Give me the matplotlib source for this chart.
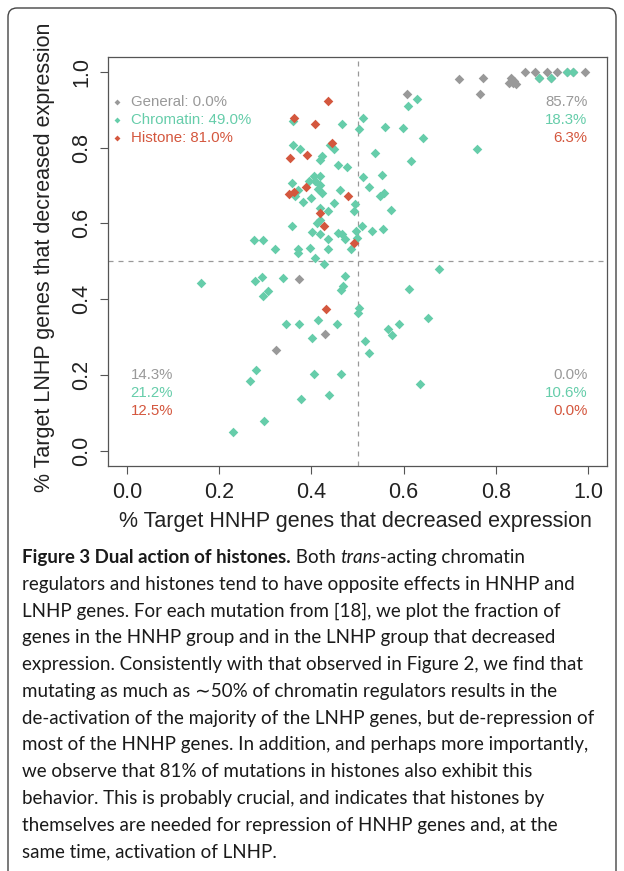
import matplotlib
matplotlib.use("Agg")
import matplotlib.pyplot as plt
from matplotlib.patches import FancyBboxPatch
from matplotlib.transforms import IdentityTransform

plt.rcParams["font.family"] = ["Liberation Sans", "DejaVu Sans"]

# ---- data (fraction of HNHP / LNHP target genes with decreased expression) ----
gen_x = [0.720, 0.773, 0.766, 0.607, 0.833, 0.838, 0.828, 0.843, 0.862, 0.885,
         0.910, 0.933, 0.993, 0.894, 0.919, 0.968, 0.955, 0.840,
         0.373, 0.430, 0.324]
gen_y = [0.982, 0.984, 0.942, 0.942, 0.984, 0.971, 0.971, 0.968, 1.000, 1.000,
         1.000, 1.000, 1.000, 0.984, 0.984, 1.000, 1.000, 0.976,
         0.454, 0.309, 0.265]

chrom_x = [0.361, 0.467, 0.504, 0.361, 0.376, 0.423, 0.418, 0.441, 0.450, 0.457,
           0.477, 0.405, 0.419, 0.394, 0.408, 0.358, 0.419, 0.415, 0.423, 0.372,
           0.365, 0.381, 0.399, 0.461, 0.448, 0.419, 0.436, 0.419, 0.494, 0.493,
           0.359, 0.402, 0.419, 0.437, 0.457, 0.467, 0.473, 0.486, 0.497, 0.276,
           0.296, 0.321, 0.372, 0.372, 0.397, 0.407, 0.436, 0.427, 0.511, 0.560,
           0.599, 0.643, 0.760, 0.538, 0.615, 0.511, 0.553, 0.524, 0.549, 0.558,
           0.572, 0.509, 0.531, 0.556, 0.498, 0.894, 0.919, 0.968, 0.955, 0.628,
           0.610, 0.160, 0.277, 0.293, 0.338, 0.473, 0.468, 0.464, 0.296, 0.306,
           0.503, 0.500, 0.345, 0.373, 0.415, 0.455, 0.401, 0.280, 0.267, 0.406,
           0.464, 0.439, 0.378, 0.298, 0.230, 0.677, 0.612, 0.567, 0.574, 0.589,
           0.652, 0.516, 0.524, 0.636, 0.412]
chrom_y = [0.870, 0.861, 0.848, 0.808, 0.795, 0.779, 0.768, 0.808, 0.797, 0.753,
           0.749, 0.724, 0.726, 0.711, 0.711, 0.707, 0.702, 0.691, 0.680, 0.689,
           0.672, 0.656, 0.667, 0.687, 0.654, 0.641, 0.632, 0.608, 0.650, 0.633,
           0.594, 0.577, 0.572, 0.559, 0.575, 0.573, 0.559, 0.531, 0.579, 0.557,
           0.555, 0.531, 0.531, 0.522, 0.535, 0.509, 0.531, 0.493, 0.878, 0.855,
           0.852, 0.826, 0.797, 0.786, 0.764, 0.722, 0.727, 0.695, 0.672, 0.680,
           0.636, 0.594, 0.579, 0.586, 0.562, 0.984, 0.984, 1.000, 1.000, 0.927,
           0.909, 0.443, 0.449, 0.459, 0.456, 0.462, 0.435, 0.423, 0.408, 0.421,
           0.377, 0.364, 0.333, 0.333, 0.344, 0.333, 0.298, 0.214, 0.183, 0.203,
           0.203, 0.148, 0.135, 0.077, 0.049, 0.480, 0.427, 0.320, 0.306, 0.333,
           0.349, 0.289, 0.258, 0.176, 0.601]

hist_x = [0.436, 0.363, 0.407, 0.444, 0.390, 0.354, 0.388, 0.363, 0.352, 0.480,
          0.419, 0.428, 0.492, 0.432]
hist_y = [0.924, 0.878, 0.863, 0.813, 0.781, 0.773, 0.696, 0.682, 0.678, 0.673,
          0.626, 0.594, 0.547, 0.374]

legend_labels = ["General: 0.0%", "Chromatin: 49.0%", "Histone: 81.0%"]
ur_labels = ["85.7%", "18.3%", "6.3%"]
ll_labels = ["14.3%", "21.2%", "12.5%"]
lr_labels = ["0.0%", "10.6%", "0.0%"]
ticks = [0.0, 0.2, 0.4, 0.6, 0.8, 1.0]

GRAY = "#999999"
GREEN = "#66CDAA"
RED = "#D4573E"
colors = [GRAY, GREEN, RED]

W, H = 624, 871
fig = plt.figure(figsize=(W / 100, H / 100), dpi=100)


def fx(px):
    return px / W


def fy(py):
    return 1 - py / H


# outer rounded frame
frame = FancyBboxPatch((8, -20), 608, H - 8 + 20,
                       boxstyle="round,pad=0,rounding_size=9",
                       transform=IdentityTransform(), fill=False,
                       edgecolor="#444444", linewidth=1.0)
fig.patches.append(frame)

ax = fig.add_axes([fx(108.3), fy(465.7), (606.7 - 108.3) / W, (465.7 - 56.7) / H])

ax.scatter(gen_x, gen_y, marker="D", s=24, c=GRAY, linewidths=0, zorder=3)
ax.scatter(chrom_x, chrom_y, marker="D", s=24, c=GREEN, linewidths=0, zorder=4)
ax.scatter(hist_x, hist_y, marker="D", s=24, c=RED, linewidths=0, zorder=5)

ax.axvline(0.5, color="#999999", ls=(0, (4, 4)), lw=0.9, zorder=1)
ax.axhline(0.5, color="#999999", ls=(0, (4, 4)), lw=0.9, zorder=1)

ax.set_xlim(-0.04, 1.04)
ax.set_ylim(-0.04, 1.04)
ax.set_xticks(ticks)
ax.set_yticks(ticks)
ax.set_xticklabels([f"{t:.1f}" for t in ticks])
ax.set_yticklabels([f"{t:.1f}" for t in ticks], rotation=90, va="center")
ax.tick_params(length=5.8, width=0.8, color="#555555", labelsize=15.5,
               labelcolor="#222222")
ax.tick_params(axis="x", pad=6)
ax.tick_params(axis="y", pad=6)
for sp in ax.spines.values():
    sp.set_color("#555555")
    sp.set_linewidth(0.9)

fig.text(fx(355), fy(521), "% Target HNHP genes that decreased expression",
         ha="center", va="center", fontsize=15.5, color="#222222")
fig.text(fx(45), fy(257), "% Target LNHP genes that decreased expression",
         ha="center", va="center", rotation=90, fontsize=15.5, color="#222222")

# in-plot legend and quadrant percentages
rows_y = [101.7, 120, 138.3]
low_y = [375, 393, 411]
for i in range(3):
    ax.scatter([fx(117.3)], [fy(rows_y[i])], marker="D", s=9, c=colors[i],
               linewidths=0, transform=fig.transFigure, clip_on=False)
    fig.text(fx(130.7), fy(rows_y[i]), legend_labels[i], color=colors[i],
             fontsize=10.8, ha="left", va="center")
    fig.text(fx(587.5), fy(rows_y[i]), ur_labels[i], color=colors[i],
             fontsize=10.8, ha="right", va="center")
    fig.text(fx(130.7), fy(low_y[i]), ll_labels[i], color=colors[i],
             fontsize=10.8, ha="left", va="center")
    fig.text(fx(587.5), fy(low_y[i]), lr_labels[i], color=colors[i],
             fontsize=10.8, ha="right", va="center")

# caption
cap_font = ["Lato", "DejaVu Sans"]
cap_size = 13.5
caption = [
    [("Figure 3 Dual action of histones.", "bold", "normal"),
     (" Both ", "normal", "normal"), ("trans", "normal", "italic"),
     ("-acting chromatin", "normal", "normal")],
    [("regulators and histones tend to have opposite effects in HNHP and", "normal", "normal")],
    [("LNHP genes. For each mutation from [18], we plot the fraction of", "normal", "normal")],
    [("genes in the HNHP group and in the LNHP group that decreased", "normal", "normal")],
    [("expression. Consistently with that observed in Figure 2, we find that", "normal", "normal")],
    [("mutating as much as \u223c50% of chromatin regulators results in the", "normal", "normal")],
    [("de-activation of the majority of the LNHP genes, but de-repression of", "normal", "normal")],
    [("most of the HNHP genes. In addition, and perhaps more importantly,", "normal", "normal")],
    [("we observe that 81% of mutations in histones also exhibit this", "normal", "normal")],
    [("behavior. This is probably crucial, and indicates that histones by", "normal", "normal")],
    [("themselves are needed for repression of HNHP genes and, at the", "normal", "normal")],
    [("same time, activation of LNHP.", "normal", "normal")],
]

renderer = fig.canvas.get_renderer()
for i, runs in enumerate(caption):
    x = 22
    base = 563 + 26.75 * i
    for txt, weight, style in runs:
        t = fig.text(fx(x), fy(base), txt, family=cap_font, fontsize=cap_size,
                     fontweight=weight, style=style, color="#1a1a1a",
                     ha="left", va="baseline")
        bb = t.get_window_extent(renderer)
        x = bb.x1

fig.savefig("out.png", dpi=100)
